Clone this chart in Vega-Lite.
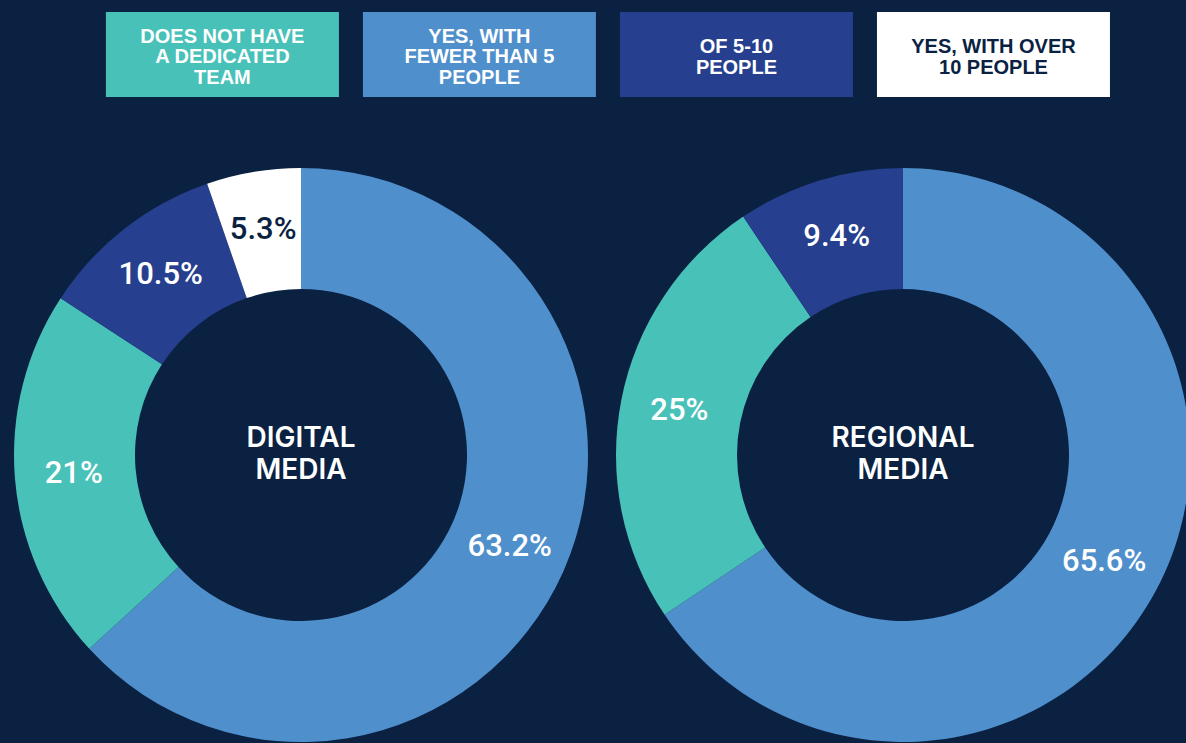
{
  "$schema": "https://vega.github.io/schema/vega-lite/v6.json",
  "background": "#0a2142",
  "padding": {"left": 10, "top": 12, "right": 0, "bottom": 0},
  "config": {"view": {"stroke": null}},
  "datasets": {
    "legend": [
      {"key": "none", "text": "DOES NOT HAVE\nA DEDICATED\nTEAM", "lines": 3},
      {"key": "lt5", "text": "YES, WITH\nFEWER THAN 5\nPEOPLE", "lines": 3},
      {"key": "5to10", "text": "OF 5-10\nPEOPLE", "lines": 2},
      {"key": "gt10", "text": "YES, WITH OVER\n10 PEOPLE", "lines": 2}
    ],
    "teams": [
      {"media": "Digital", "key": "lt5", "value": 63.2, "label": "63.2%", "ord": 1},
      {"media": "Digital", "key": "none", "value": 21, "label": "21%", "ord": 2},
      {"media": "Digital", "key": "5to10", "value": 10.5, "label": "10.5%", "ord": 3},
      {"media": "Digital", "key": "gt10", "value": 5.3, "label": "5.3%", "ord": 4},
      {"media": "Regional", "key": "lt5", "value": 65.6, "label": "65.6%", "ord": 1},
      {"media": "Regional", "key": "none", "value": 25, "label": "25%", "ord": 2},
      {"media": "Regional", "key": "5to10", "value": 9.4, "label": "9.4%", "ord": 3}
    ]
  },
  "spacing": 68,
  "vconcat": [
    {
      "width": 1184,
      "height": 85,
      "data": {"name": "legend"},
      "encoding": {
        "x": {"field": "key", "type": "nominal", "sort": ["none", "lt5", "5to10", "gt10"], "axis": null,
              "scale": {"type": "band", "paddingInner": 0.0934, "paddingOuter": 0.35, "align": 0.533}}
      },
      "layer": [
        {
          "mark": {"type": "rect"},
          "encoding": {
            "color": {"field": "key", "type": "nominal", "legend": null,
                      "scale": {"domain": ["none", "lt5", "5to10", "gt10"], "range": ["#48c1b9", "#4f8fcc", "#263f8e", "#ffffff"]}}
          }
        },
        {
          "transform": [{"filter": "datum.lines === 3"}],
          "mark": {"type": "text", "font": "Liberation Sans", "fontWeight": "bold", "fontSize": 20, "lineHeight": 20.5, "lineBreak": "\n", "align": "center", "baseline": "middle", "dy": -18},
          "encoding": {
            "text": {"field": "text", "type": "nominal"},
            "color": {"condition": {"test": "datum.key === 'gt10'", "value": "#0a2142"}, "value": "#ffffff"}
          }
        },
        {
          "transform": [{"filter": "datum.lines === 2"}],
          "mark": {"type": "text", "font": "Liberation Sans", "fontWeight": "bold", "fontSize": 20, "lineHeight": 20.5, "lineBreak": "\n", "align": "center", "baseline": "middle", "dy": -7.5},
          "encoding": {
            "text": {"field": "text", "type": "nominal"},
            "color": {"condition": {"test": "datum.key === 'gt10'", "value": "#0a2142"}, "value": "#ffffff"}
          }
        }
      ]
    },
    {
      "spacing": 20,
      "hconcat": [
        {
          "width": 582,
          "height": 580,
          "layer": [
            {
              "data": {"name": "teams"},
              "transform": [{"filter": "datum.media === 'Digital'"}],
              "encoding": {
                "theta": {"field": "value", "type": "quantitative", "stack": true},
                "order": {"field": "ord", "type": "quantitative"}
              },
              "layer": [
                {
                  "mark": {"type": "arc", "outerRadius": 287, "innerRadius": 166},
                  "encoding": {
                    "color": {"field": "key", "type": "nominal", "legend": null,
                              "scale": {"domain": ["none", "lt5", "5to10", "gt10"], "range": ["#48c1b9", "#4f8fcc", "#263f8e", "#ffffff"]}}
                  }
                },
                {
                  "mark": {"type": "text", "radius": 228, "font": "Roboto", "fontWeight": 500, "fontSize": 31, "align": "center", "baseline": "middle"},
                  "encoding": {
                    "text": {"field": "label", "type": "nominal"},
                    "color": {"condition": {"test": "datum.key === 'gt10'", "value": "#0a2142"}, "value": "#ffffff"}
                  }
                }
              ]
            },
            {
              "data": {"values": [{"title": "DIGITAL\nMEDIA"}]},
              "mark": {"type": "text", "font": "Inter", "fontWeight": 600, "fontSize": 28, "lineHeight": 32, "lineBreak": "\n", "align": "center", "baseline": "middle", "dy": -16, "color": "#ffffff"},
              "encoding": {"text": {"field": "title", "type": "nominal"}}
            }
          ]
        },
        {
          "width": 582,
          "height": 580,
          "layer": [
            {
              "data": {"name": "teams"},
              "transform": [{"filter": "datum.media === 'Regional'"}],
              "encoding": {
                "theta": {"field": "value", "type": "quantitative", "stack": true},
                "order": {"field": "ord", "type": "quantitative"}
              },
              "layer": [
                {
                  "mark": {"type": "arc", "outerRadius": 287, "innerRadius": 166},
                  "encoding": {
                    "color": {"field": "key", "type": "nominal", "legend": null,
                              "scale": {"domain": ["none", "lt5", "5to10", "gt10"], "range": ["#48c1b9", "#4f8fcc", "#263f8e", "#ffffff"]}}
                  }
                },
                {
                  "mark": {"type": "text", "radius": 228, "font": "Roboto", "fontWeight": 500, "fontSize": 31, "align": "center", "baseline": "middle"},
                  "encoding": {
                    "text": {"field": "label", "type": "nominal"},
                    "color": {"condition": {"test": "datum.key === 'gt10'", "value": "#0a2142"}, "value": "#ffffff"}
                  }
                }
              ]
            },
            {
              "data": {"values": [{"title": "REGIONAL\nMEDIA"}]},
              "mark": {"type": "text", "font": "Inter", "fontWeight": 600, "fontSize": 28, "lineHeight": 32, "lineBreak": "\n", "align": "center", "baseline": "middle", "dy": -16, "color": "#ffffff"},
              "encoding": {"text": {"field": "title", "type": "nominal"}}
            }
          ]
        }
      ]
    }
  ]
}
